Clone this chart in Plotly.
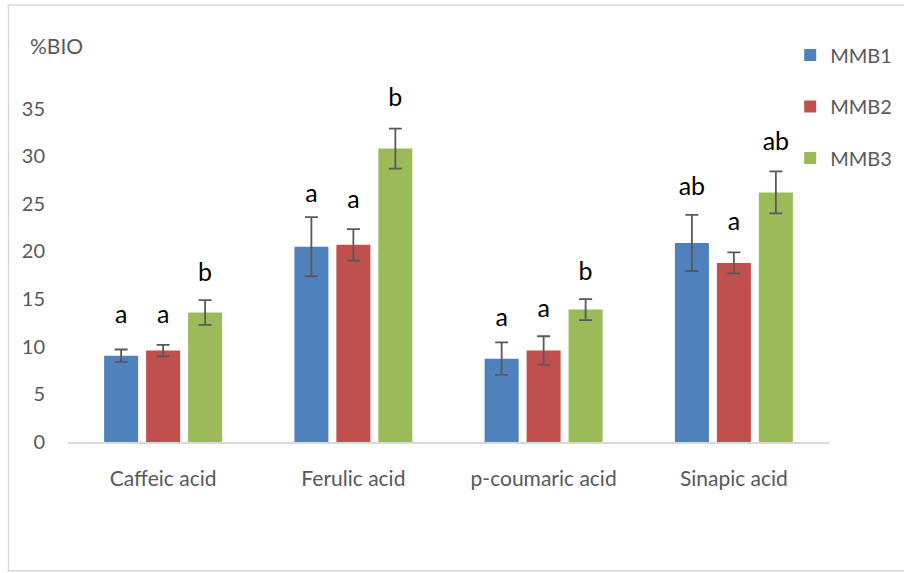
import plotly.graph_objects as go

categories = ["Caffeic acid", "Ferulic acid", "p-coumaric acid", "Sinapic acid"]
series_names = ["MMB1", "MMB2", "MMB3"]
mmb1 = [9.06, 20.5, 8.75, 20.9]
mmb2 = [9.6, 20.7, 9.6, 18.8]
mmb3 = [13.6, 30.8, 13.9, 26.2]
err1 = [0.65, 3.1, 1.7, 2.95]
err2 = [0.6, 1.65, 1.5, 1.1]
err3 = [1.3, 2.1, 1.1, 2.2]
letters1 = ["a", "a", "a", "ab"]
letters2 = ["a", "a", "a", "a"]
letters3 = ["b", "b", "b", "ab"]
letter_y1 = [13.15, 25.9, 12.8, 26.6]
letter_y2 = [13.15, 25.2, 13.8, 22.9]
letter_y3 = [17.55, 35.9, 17.7, 31.35]
y_ticks = [0, 5, 10, 15, 20, 25, 30, 35]

colors = ["#4F81BD", "#C0504D", "#9BBB59"]
values = [mmb1, mmb2, mmb3]
errors = [err1, err2, err3]
letters = [letters1, letters2, letters3]
letter_ys = [letter_y1, letter_y2, letter_y3]

FONT = "Lato"
GRAY = "#595959"
BARGAP = 0.338

fig = go.Figure()
for i, name in enumerate(series_names):
    fig.add_trace(go.Bar(
        name=name, x=categories, y=values[i], marker_color=colors[i],
        marker_line_width=0, legendgroup=name,
        error_y=dict(type="data", array=errors[i], visible=True,
                     color="#595959", thickness=1.8, width=6.5),
    ))

n = len(categories)
slot = (1 - BARGAP) / 3
offsets = [-1, 0, 1]
for i in range(3):
    fig.add_trace(go.Scatter(
        x=[j + offsets[i] * slot for j in range(n)],
        y=letter_ys[i], mode="text", text=letters[i],
        textfont=dict(family=FONT, size=25, color="#000000"),
        showlegend=False, hoverinfo="skip", xaxis="x2", cliponaxis=False,
    ))

fig.update_layout(
    width=904, height=573,
    barmode="group", bargap=BARGAP, bargroupgap=0.19,
    plot_bgcolor="white", paper_bgcolor="white",
    margin=dict(l=68, r=75, t=80, b=130.5, autoexpand=False),
    font=dict(family=FONT, color=GRAY, size=20),
    xaxis=dict(showline=True, linecolor="#D9D9D9", linewidth=1.5,
               range=[-0.5, n - 0.5],
               ticks="", tickfont=dict(size=21, color=GRAY), showgrid=False,
               ticklabelstandoff=17),
    xaxis2=dict(overlaying="x", range=[-0.5, n - 0.5], visible=False),
    yaxis=dict(range=[0, 38], tickvals=y_ticks, showgrid=False,
               showline=False, zeroline=False, ticks="",
               tickfont=dict(size=20, color=GRAY), ticklabelstandoff=22),
    legend=dict(x=0.949, xanchor="left", y=1.123, yanchor="top",
                font=dict(size=20, color=GRAY), tracegroupgap=22.5,
                itemwidth=30, bgcolor="rgba(0,0,0,0)"),
    showlegend=True,
)

fig.add_annotation(text="%BIO", xref="paper", yref="paper", x=-0.0526, y=1.0966,
                   xanchor="left", yanchor="middle", showarrow=False,
                   font=dict(family=FONT, size=21, color=GRAY))
fig.add_shape(type="rect", xref="paper", yref="paper",
              x0=-0.0782, x1=1.12, y0=-0.356, y1=1.207,
              line=dict(color="#D9D9D9", width=1.5), fillcolor="rgba(0,0,0,0)")

fig.write_html("out.html", config={"displayModeBar": False},
               post_script="document.body.style.margin='0';")
